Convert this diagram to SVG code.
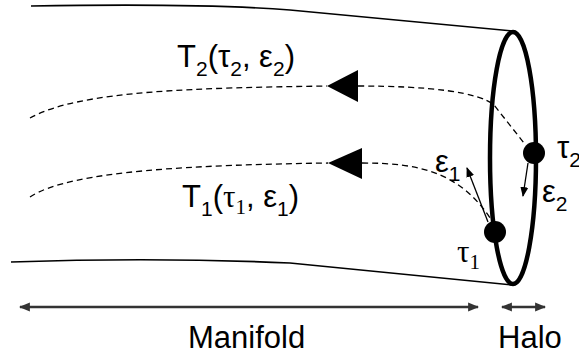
<svg xmlns="http://www.w3.org/2000/svg" width="579" height="356" viewBox="0 0 579 356">
<style>
text{font-family:"Liberation Sans",Arial,sans-serif;font-size:31px;fill:#000}
.serif{font-family:"Liberation Serif","Times New Roman",serif}
.sub{font-size:21px}
.tube{fill:none;stroke:#000;stroke-width:1.6}
.dash{fill:none;stroke:#000;stroke-width:1.3;stroke-dasharray:6 4}
.vec{stroke:#000;stroke-width:1.3;fill:none}
.dim{stroke:#333;stroke-width:2.5;fill:none}
</style>
<defs>
<marker id="ah" viewBox="0 0 10 10" refX="9" refY="5" markerWidth="10" markerHeight="10" markerUnits="userSpaceOnUse" orient="auto-start-reverse">
<path d="M0,1 L10,5 L0,9 z" fill="#000"/>
</marker>
<marker id="dh" viewBox="0 0 10 10" refX="9" refY="5" markerWidth="11" markerHeight="11" markerUnits="userSpaceOnUse" orient="auto-start-reverse">
<path d="M0,1 L10,5 L0,9 z" fill="#333"/>
</marker>
</defs>
<g id="manifold">
<path class="tube" d="M31,6 C150,4 240,6 290,10 L512,31"/>
<path class="tube" d="M11,262 C100,259 200,259 290,263 L512,285"/>
</g>
<g id="halo">
<ellipse cx="513" cy="158" rx="23" ry="126" fill="none" stroke="#000" stroke-width="4.5"/>
</g>
<g id="connectors">
<path class="dash" d="M30,118 C80,90 200,88 327,86"/>
<path class="dash" d="M358,86 C430,86 478,92 494,105 L524,143"/>
<path class="dash" d="M30,197 C70,170 200,165 328,163"/>
<path class="dash" d="M362,163 C420,163 462,172 494,224"/>
<polygon points="327,86 358,70 358,102" fill="#000"/>
<polygon points="328,163 362,148 362,179" fill="#000"/>
<line class="vec" x1="488" y1="222" x2="467" y2="168" marker-end="url(#ah)"/>
<line class="vec" x1="528" y1="163" x2="523" y2="196" marker-end="url(#ah)"/>
<line class="dim" x1="20" y1="307" x2="478" y2="307" marker-start="url(#dh)" marker-end="url(#dh)"/>
<line class="dim" x1="502" y1="307" x2="545" y2="307" marker-start="url(#dh)" marker-end="url(#dh)"/>
</g>
<g id="tau2">
<circle cx="534" cy="153" r="11" fill="#000"/>
<text x="557" y="158">τ<tspan class="sub" dy="9">2</tspan></text>
</g>
<g id="tau1">
<circle cx="495" cy="232" r="11" fill="#000"/>
<text class="serif" x="457" y="262">τ<tspan class="sub" dy="7">1</tspan></text>
</g>
<g id="labels">
<text x="177" y="67">T<tspan class="sub" dy="9">2</tspan><tspan dy="-9">(τ</tspan><tspan class="sub" dy="9">2</tspan><tspan dy="-9">, ε</tspan><tspan class="sub" dy="9">2</tspan><tspan dy="-9">)</tspan></text>
<text x="182" y="207">T<tspan class="sub" dy="9">1</tspan><tspan dy="-9">(</tspan><tspan class="serif">τ</tspan><tspan class="sub serif" dy="7">1</tspan><tspan dy="-7">, ε</tspan><tspan class="sub" dy="9">1</tspan><tspan dy="-9">)</tspan></text>
<text x="435" y="172">ε<tspan class="sub" dy="9">1</tspan></text>
<text x="542" y="202">ε<tspan class="sub" dy="9">2</tspan></text>
<text x="188" y="348">Manifold</text>
<text x="498" y="348">Halo</text>
</g>
</svg>
